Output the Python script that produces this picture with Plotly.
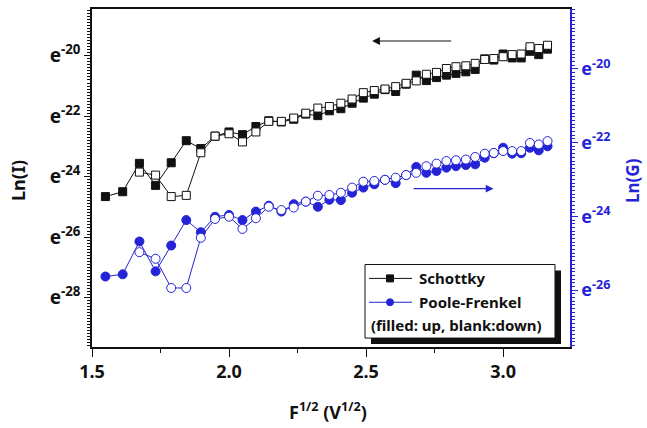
import plotly.graph_objects as go

# ---- data ----
x_f = [1.549, 1.612, 1.673, 1.732, 1.789, 1.844, 1.897, 1.949, 2.000, 2.049,
       2.098, 2.145, 2.191, 2.236, 2.280, 2.324, 2.366, 2.408, 2.449, 2.490,
       2.530, 2.569, 2.608, 2.646, 2.683, 2.720, 2.757, 2.793, 2.828, 2.864,
       2.898, 2.933, 2.966, 3.000, 3.033, 3.066, 3.098, 3.130, 3.162]
x_b = x_f[2:]

schottky_up = [-24.66, -24.50, -23.56, -24.29, -23.54, -22.81, -23.07, -22.66, -22.52, -22.61,
               -22.34, -22.15, -22.19, -22.10, -21.93, -21.98, -21.82, -21.75, -21.57, -21.40,
               -21.27, -21.12, -21.18, -20.94, -20.64, -20.82, -20.72, -20.64, -20.58, -20.53,
               -20.45, -20.10, -20.14, -19.94, -20.07, -20.07, -19.85, -19.96, -19.78]
schottky_down = [-23.85, -23.95, -24.66, -24.62, -23.21, -22.66, -22.58, -22.85, -22.52, -22.17,
                 -22.17, -22.06, -21.90, -21.73, -21.68, -21.57, -21.43, -21.22, -21.15, -21.10,
                 -21.02, -20.91, -20.83, -20.61, -20.55, -20.42, -20.36, -20.33, -20.25, -20.12,
                 -20.09, -20.03, -19.96, -19.94, -19.70, -19.76, -19.65]
pf_up = [-25.63, -25.57, -24.68, -25.49, -24.79, -24.10, -24.43, -24.01, -23.96, -24.10,
         -23.87, -23.71, -23.87, -23.67, -23.60, -23.74, -23.55, -23.56, -23.36, -23.22,
         -23.13, -23.01, -23.10, -22.88, -22.66, -22.82, -22.77, -22.68, -22.64, -22.61,
         -22.59, -22.41, -22.29, -22.14, -22.30, -22.29, -22.14, -22.21, -22.10]
pf_down = [-24.97, -25.15, -25.94, -25.94, -24.58, -24.07, -24.01, -24.34, -24.05, -23.74,
           -23.83, -23.76, -23.60, -23.44, -23.42, -23.36, -23.22, -23.06, -23.04, -23.01,
           -22.95, -22.88, -22.82, -22.64, -22.57, -22.50, -22.48, -22.46, -22.39, -22.30,
           -22.28, -22.23, -22.23, -22.23, -22.01, -22.05, -21.96]

x_ticks = [1.5, 2.0, 2.5, 3.0]
left_ticks = [-28, -26, -24, -22, -20]
right_ticks = [-26, -24, -22, -20]
legend_names = ["Schottky", "Poole-Frenkel", "(filled: up, blank:down)"]

BLACK = "#111111"
BLUE = "#2424d6"
FONT = "Noto Sans"

# plot area in pixels
L, R, T, B = 92, 570, 7, 347
W, H = 647, 428


def px(xp):
    return (xp - L) / (R - L)


def py(yp):
    return (B - yp) / (B - T)


fig = go.Figure()

fig.add_trace(go.Scatter(x=x_f, y=schottky_up, mode="lines+markers", yaxis="y",
                         line=dict(color=BLACK, width=1),
                         marker=dict(symbol="square", size=8, color=BLACK,
                                     line=dict(color=BLACK, width=1))))
fig.add_trace(go.Scatter(x=x_b, y=schottky_down, mode="lines+markers", yaxis="y",
                         line=dict(color=BLACK, width=1),
                         marker=dict(symbol="square", size=8, color="white",
                                     line=dict(color=BLACK, width=1))))
fig.add_trace(go.Scatter(x=x_f, y=pf_up, mode="lines+markers", yaxis="y2",
                         line=dict(color=BLUE, width=1),
                         marker=dict(symbol="circle", size=9, color=BLUE,
                                     line=dict(color=BLUE, width=1))))
fig.add_trace(go.Scatter(x=x_b, y=pf_down, mode="lines+markers", yaxis="y2",
                         line=dict(color=BLUE, width=1),
                         marker=dict(symbol="circle", size=9, color="white",
                                     line=dict(color=BLUE, width=1))))

tickfont = dict(family=FONT, size=18, color=BLACK, weight="bold")

fig.update_layout(
    width=W, height=H,
    margin=dict(l=L, r=W - R, t=T, b=H - B, pad=0),
    paper_bgcolor="white", plot_bgcolor="white",
    showlegend=False,
    xaxis=dict(range=[1.5, 3.244], tickvals=x_ticks, ticktext=[f"{v:.1f}" for v in x_ticks],
               ticks="outside", ticklen=8, tickwidth=1.2, tickcolor=BLACK,
               minor=dict(dtick=0.25, tick0=1.5, ticks="outside", ticklen=4, tickcolor=BLACK),
               showline=True, linecolor=BLACK, linewidth=1.5, mirror=True,
               showgrid=False, zeroline=False, tickfont=tickfont),
    yaxis=dict(range=[-29.64, -18.45], tickvals=left_ticks,
               ticktext=[f"e<sup>{v}</sup>" for v in left_ticks],
               ticks="outside", ticklen=6, tickwidth=1.2, tickcolor=BLACK,
               minor=dict(dtick=0.1, tick0=-20, ticks="outside", ticklen=3, tickcolor=BLACK),
               showline=True, linecolor=BLACK, linewidth=1.5,
               showgrid=False, zeroline=False,
               tickfont=dict(family=FONT, size=19, color=BLACK, weight="bold")),
    yaxis2=dict(range=[-27.54, -18.38], tickvals=right_ticks,
                ticktext=[f"e<sup>{v}</sup>" for v in right_ticks],
                overlaying="y", side="right",
                ticks="outside", ticklen=6, tickwidth=1.2, tickcolor=BLUE,
                minor=dict(dtick=0.1, tick0=-20, ticks="outside", ticklen=3, tickcolor=BLUE),
                showline=True, linecolor=BLUE, linewidth=1.5,
                showgrid=False, zeroline=False,
                tickfont=dict(family=FONT, size=18, color=BLUE, weight="bold")),
)

ann = []
# axis titles
ann.append(dict(text="Ln(I)", xref="paper", yref="paper", x=px(18), y=py(180),
                xanchor="center", yanchor="middle",
                textangle=-90, showarrow=False,
                font=dict(family=FONT, size=18, color=BLACK, weight="bold")))
ann.append(dict(text="Ln(G)", xref="paper", yref="paper", x=px(633), y=py(180),
                xanchor="center", yanchor="middle",
                textangle=-90, showarrow=False,
                font=dict(family=FONT, size=17, color=BLUE, weight="bold")))
ann.append(dict(text="F<sup>1/2</sup> (V<sup>1/2</sup>)", xref="paper", yref="paper",
                x=px(328), y=py(411), xanchor="center", yanchor="middle", showarrow=False,
                font=dict(family=FONT, size=18, color=BLACK, weight="bold")))
# direction arrows
ann.append(dict(text="", x=2.522, y=-19.51, ax=2.816, ay=-19.51, xref="x", yref="y",
                axref="x", ayref="y", showarrow=True, arrowhead=2, arrowsize=1.3,
                arrowwidth=1.2, arrowcolor=BLACK))
ann.append(dict(text="", x=2.965, y=-23.25, ax=2.668, ay=-23.25, xref="x", yref="y2",
                axref="x", ayref="y2", showarrow=True, arrowhead=2, arrowsize=1.3,
                arrowwidth=1.2, arrowcolor=BLUE))

# legend (manual)
shapes = []
bx0, bx1, by0, by1 = 365, 555, 264, 338
shapes.append(dict(type="rect", xref="paper", yref="paper",
                   x0=px(bx0 + 6), x1=px(bx1 + 6), y0=py(by1 + 6), y1=py(by0 + 6),
                   fillcolor=BLACK, line=dict(width=0), layer="above"))
shapes.append(dict(type="rect", xref="paper", yref="paper",
                   x0=px(bx0), x1=px(bx1), y0=py(by1), y1=py(by0),
                   fillcolor="white", line=dict(color=BLACK, width=1), layer="above"))
rows = [278, 302, 325]
for yy, col, sym in [(rows[0], BLACK, "square"), (rows[1], BLUE, "circle")]:
    shapes.append(dict(type="line", xref="paper", yref="paper",
                       x0=px(369), x1=px(412), y0=py(yy), y1=py(yy),
                       line=dict(color=col, width=1), layer="above"))
    shapes.append(dict(type="rect" if sym == "square" else "circle",
                       xref="paper", yref="paper", xsizemode="pixel", ysizemode="pixel",
                       xanchor=px(390), yanchor=py(yy), x0=-3.5, x1=3.5, y0=-3.5, y1=3.5,
                       fillcolor=col, line=dict(color=col, width=1), layer="above"))
for i, (xx, yy) in enumerate([(417, rows[0]), (417, rows[1]), (369, rows[2])]):
    ann.append(dict(text=legend_names[i], xref="paper", yref="paper", x=px(xx), y=py(yy),
                    xanchor="left", yanchor="middle", showarrow=False,
                    font=dict(family=FONT, size=15, color=BLACK, weight="bold")))

fig.update_layout(annotations=ann, shapes=shapes)

fig.write_html("out.html")
